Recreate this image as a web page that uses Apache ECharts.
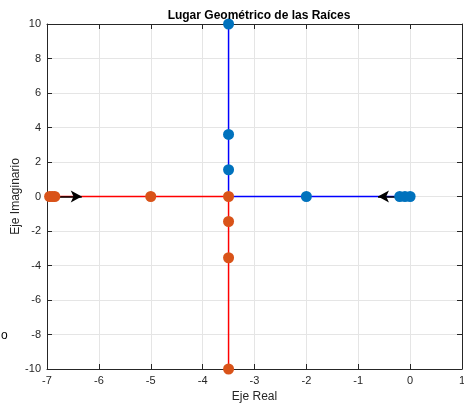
<!DOCTYPE html>
<html style="height: 100%">
<head>
	<meta charset="utf-8">
</head>
<body style="height: 100%; margin: 0; background: #fff">
	<div id="container" style="width: 464px; height: 404px;"></div>
	<script type="text/javascript" src="https://cdn.jsdelivr.net/npm/echarts@6/dist/echarts.min.js"></script>
	<script type="text/javascript">
		// trayectorias de las ramas
		let bluePath = [[0, 0], [-3.5, 0], [-3.5, 10]];
		let redPath = [[-7, 0], [-3.5, 0], [-3.5, -10]];
		// polos / puntos marcados
		let bluePoints = [[0, 0], [-0.1, 0], [-0.2, 0], [-2, 0], [-3.5, 1.55], [-3.5, 3.6], [-3.5, 10]];
		let redPoints = [[-6.95, 0], [-6.9, 0], [-6.85, 0], [-5, 0], [-3.5, 0], [-3.5, -1.45], [-3.5, -3.55], [-3.5, -10]];
		// flechas de direccion
		let arrowLeft = [[-7, 0], [-6.33, 0]];
		let arrowRight = [[0, 0], [-0.62, 0]];

		let font = 'Liberation Sans, Arial, Helvetica, sans-serif';
		let axisColor = '#262626';

		let dom = document.getElementById("container");
		let myChart = echarts.init(dom);

		function mainAxis(extra) {
			return Object.assign({
				type: 'value',
				axisLine: { show: true, onZero: false, lineStyle: { color: axisColor, width: 1 } },
				axisTick: { show: true, inside: true, length: 5, lineStyle: { color: axisColor } },
				axisLabel: { color: axisColor, fontSize: 11, fontFamily: font, margin: 6 },
				splitLine: { show: true, lineStyle: { color: '#e5e5e5', width: 1 } },
				nameMoveOverlap: false,
				nameTextStyle: { color: axisColor, fontSize: 12, fontFamily: font }
			}, extra);
		}

		function boxAxis(extra) {
			return Object.assign({
				type: 'value',
				axisLine: { show: true, onZero: false, lineStyle: { color: axisColor, width: 1 } },
				axisTick: { show: true, inside: true, length: 5, lineStyle: { color: axisColor } },
				axisLabel: { show: false },
				splitLine: { show: false }
			}, extra);
		}

		function arrowLine(pts) {
			return {
				type: 'line',
				xAxisIndex: 0, yAxisIndex: 0,
				data: [],
				silent: true,
				markLine: {
					silent: true,
					symbol: ['none', 'arrow'],
					symbolSize: [9, 11],
					label: { show: false },
					lineStyle: { color: '#000', type: 'solid', width: 1.5 },
					data: [[{ coord: pts[0] }, { coord: pts[1] }]]
				},
				z: 4
			};
		}

		let option = {
			animation: false,
			title: {
				text: 'Lugar Geométrico de las Raíces',
				left: 254, top: 5,
				textAlign: 'center',
				textStyle: { fontSize: 12, fontWeight: 'bold', color: '#000', fontFamily: font }
			},
			grid: { left: 47, right: 2, top: 24, bottom: 35, containLabel: false, outerBoundsMode: 'none' },
			xAxis: [
				mainAxis({
					min: -7, max: 1, interval: 1,
					name: 'Eje Real', nameLocation: 'middle', nameGap: 22
				}),
				boxAxis({ position: 'top', min: -7, max: 1, interval: 1 })
			],
			yAxis: [
				mainAxis({
					min: -10, max: 10, interval: 2,
					name: 'Eje Imaginario', nameLocation: 'middle', nameGap: 25
				}),
				boxAxis({ position: 'right', min: -10, max: 10, interval: 2 })
			],
			graphic: [{
				type: 'text', left: 1, top: 330,
				style: { text: 'o', fontSize: 12, fontFamily: font, fill: '#000' }
			}],
			series: [
				{
					type: 'line', data: bluePath, showSymbol: false, symbol: 'none',
					lineStyle: { color: '#0000ff', width: 1.5 }, z: 2, silent: true
				},
				{
					type: 'line', data: redPath, showSymbol: false, symbol: 'none',
					lineStyle: { color: '#ff0000', width: 1.5 }, z: 3, silent: true
				},
				arrowLine(arrowLeft),
				arrowLine(arrowRight),
				{
					type: 'scatter', data: bluePoints, symbol: 'circle', symbolSize: 11,
					itemStyle: { color: '#0072bd', opacity: 1 }, clip: false, z: 5
				},
				{
					type: 'scatter', data: redPoints, symbol: 'circle', symbolSize: 11,
					itemStyle: { color: '#d95319', opacity: 1 }, clip: false, z: 6
				}
			]
		};

		myChart.setOption(option);
	</script>
</body>
</html>
